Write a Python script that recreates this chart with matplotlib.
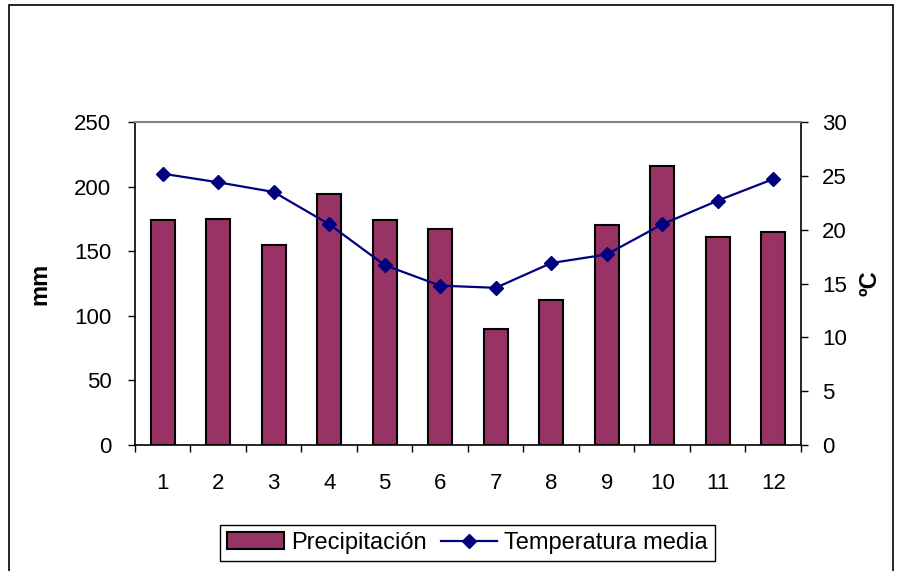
import matplotlib
matplotlib.use("Agg")
import matplotlib.pyplot as plt
from matplotlib.patches import Rectangle
import numpy as np

months = [1, 2, 3, 4, 5, 6, 7, 8, 9, 10, 11, 12]
precipitation = [174, 175, 155, 194, 174, 167, 90, 112, 170, 216, 161, 165]
temperature = [25.2, 24.4, 23.5, 20.5, 16.7, 14.8, 14.6, 16.9, 17.7, 20.5, 22.7, 24.7]

plt.rcParams["font.family"] = ["Liberation Sans", "DejaVu Sans"]
plt.rcParams["font.size"] = 16

fig = plt.figure(figsize=(9.01, 5.71), dpi=100)
ax = fig.add_axes([0.1498, 0.2207, 0.7392, 0.5656])

bars = ax.bar(
    months,
    precipitation,
    width=0.43,
    color="#993366",
    edgecolor="black",
    linewidth=1.5,
    label="Precipitación",
    zorder=2,
)
ax.set_xlim(0.5, 12.5)
ax.set_ylim(0, 250)
ax.set_yticks(np.arange(0, 251, 50))

# category ticks sit between the bars, labels on the bars
ax.set_xticks(np.arange(0.5, 13, 1))
ax.set_xticklabels([])
ax.set_xticks(months, minor=True)
ax.set_xticklabels([str(m) for m in months], minor=True)
ax.tick_params(axis="x", which="major", direction="out", length=5, width=1)
ax.tick_params(axis="x", which="minor", length=0, pad=20)
ax.tick_params(axis="y", direction="out", length=5, width=1, pad=12)
ax.set_ylabel("mm", fontweight="bold", fontsize=17)
ax.yaxis.set_label_coords(-0.125, 0.5)

ax.spines["top"].set_color("#808080")
ax.spines["top"].set_linewidth(1.5)
for s in ["left", "bottom", "right"]:
    ax.spines[s].set_linewidth(1.2)

ax2 = ax.twinx()
(line,) = ax2.plot(
    months,
    temperature,
    color="#000080",
    linewidth=1.6,
    marker="D",
    markersize=7,
    label="Temperatura media",
    zorder=3,
)
ax2.set_ylim(0, 30)
ax2.set_yticks(np.arange(0, 31, 5))
ax2.tick_params(axis="y", direction="out", length=5, width=1, pad=10)
ax2.set_ylabel("ºC", fontweight="bold", fontsize=17, rotation=90)
ax2.yaxis.set_label_coords(1.086, 0.5)
for s in ax2.spines.values():
    s.set_visible(False)

leg = fig.legend(
    [bars, line],
    ["Precipitación", "Temperatura media"],
    loc="center",
    bbox_to_anchor=(0.519, 0.049),
    ncol=2,
    fancybox=False,
    shadow=False,
    edgecolor="black",
    framealpha=1,
    handlelength=2.4,
    handletextpad=0.3,
    columnspacing=0.6,
    borderpad=0.3,
    fontsize=17,
)
leg.get_frame().set_linewidth(1)

fig.patches.append(
    Rectangle(
        (9 / 901, -0.02),
        884 / 901,
        1.02 - 5 / 571,
        transform=fig.transFigure,
        fill=False,
        edgecolor="black",
        linewidth=1.2,
    )
)

fig.savefig("out.png", dpi=100)
